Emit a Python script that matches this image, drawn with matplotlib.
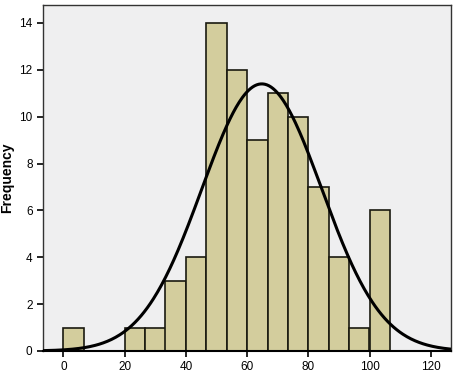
import numpy as np
import matplotlib
matplotlib.use('Agg')
import matplotlib.pyplot as plt

# bin edges and counts
bin_left = [0, 20, 26.67, 33.33, 40, 46.67, 53.33, 60, 66.67, 73.33, 80, 86.67, 93.33, 100]
counts = [1, 1, 1, 3, 4, 14, 12, 9, 11, 10, 7, 4, 1, 6]
bin_width = 6.667
mean, sd = 64.8, 19.6
n_total = sum(counts)
x_ticks = [0, 20, 40, 60, 80, 100, 120]
y_ticks = [0, 2, 4, 6, 8, 10, 12, 14]

plt.rcParams['font.family'] = ['Liberation Sans', 'DejaVu Sans']

fig = plt.figure(figsize=(4.55, 3.77), dpi=100)
ax = fig.add_axes([0.0945, 0.069, 0.8965, 0.918])
ax.set_facecolor('#efeff0')

ax.bar(bin_left, counts, width=bin_width, align='edge', color='#d3cd9d',
       edgecolor='#1a1a10', linewidth=1.2, zorder=2)

xmin, xmax = -6.7, 126.6
xs = np.linspace(xmin, xmax, 400)
curve = n_total * bin_width / (sd * np.sqrt(2 * np.pi)) * np.exp(-(xs - mean) ** 2 / (2 * sd ** 2))
ax.plot(xs, curve, color='black', linewidth=2.2, zorder=3)

ax.set_xlim(xmin, xmax)
ax.set_ylim(0, 14.77)
ax.set_xticks(x_ticks)
ax.set_yticks(y_ticks)
ax.tick_params(direction='out', length=4, width=1.2, labelsize=8.5, colors='black')
for s in ax.spines.values():
    s.set_color('#333333')
    s.set_linewidth(1.0)
ax.spines['bottom'].set_linewidth(1.5)
ax.spines['bottom'].set_color('black')
ax.set_ylabel('Frequency', fontsize=10, fontweight='bold', labelpad=4)

fig.savefig('out.png', dpi=100)
